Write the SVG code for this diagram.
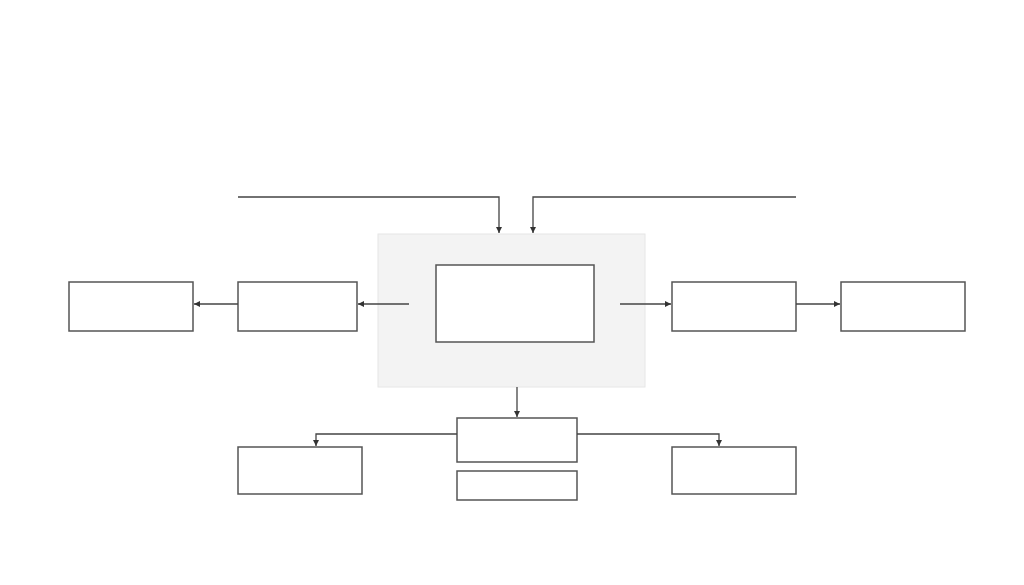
<svg xmlns="http://www.w3.org/2000/svg" width="1024" height="585" viewBox="0 0 1024 585">
<defs>
<marker id="arr" viewBox="0 0 10 10" refX="10" refY="5" markerWidth="6" markerHeight="6" markerUnits="userSpaceOnUse" orient="auto">
<path d="M0,0 L10,5 L0,10 z" fill="#333"/>
</marker>
</defs>
<style>
.box{fill:#fff;stroke:#555;stroke-width:1.5}
.line{fill:none;stroke:#444;stroke-width:1.3;marker-end:url(#arr)}
</style>
<rect width="1024" height="585" fill="#fff"/>
<g id="container"><rect x="378" y="234" width="267" height="153" fill="#f3f3f3" stroke="#e6e6e6" stroke-width="1"/></g>
<g id="core"><rect class="box" x="436" y="265" width="158" height="77"/></g>
<g id="left1"><rect class="box" x="238" y="282" width="119" height="49"/></g>
<g id="left2"><rect class="box" x="69" y="282" width="124" height="49"/></g>
<g id="right1"><rect class="box" x="672" y="282" width="124" height="49"/></g>
<g id="right2"><rect class="box" x="841" y="282" width="124" height="49"/></g>
<g id="mid1"><rect class="box" x="457" y="418" width="120" height="44"/></g>
<g id="mid2"><rect class="box" x="457" y="471" width="120" height="29"/></g>
<g id="bl"><rect class="box" x="238" y="447" width="124" height="47"/></g>
<g id="br"><rect class="box" x="672" y="447" width="124" height="47"/></g>
<g id="connectors">
<path class="line" d="M238,197 H499 V233"/>
<path class="line" d="M796,197 H533 V233"/>
<path class="line" d="M409,304 H358"/>
<path class="line" d="M238,304 H194"/>
<path class="line" d="M620,304 H671"/>
<path class="line" d="M796,304 H840"/>
<path class="line" d="M517,387 V417"/>
<path class="line" d="M457,434 H316 V446"/>
<path class="line" d="M577,434 H719 V446"/>
</g>
</svg>
